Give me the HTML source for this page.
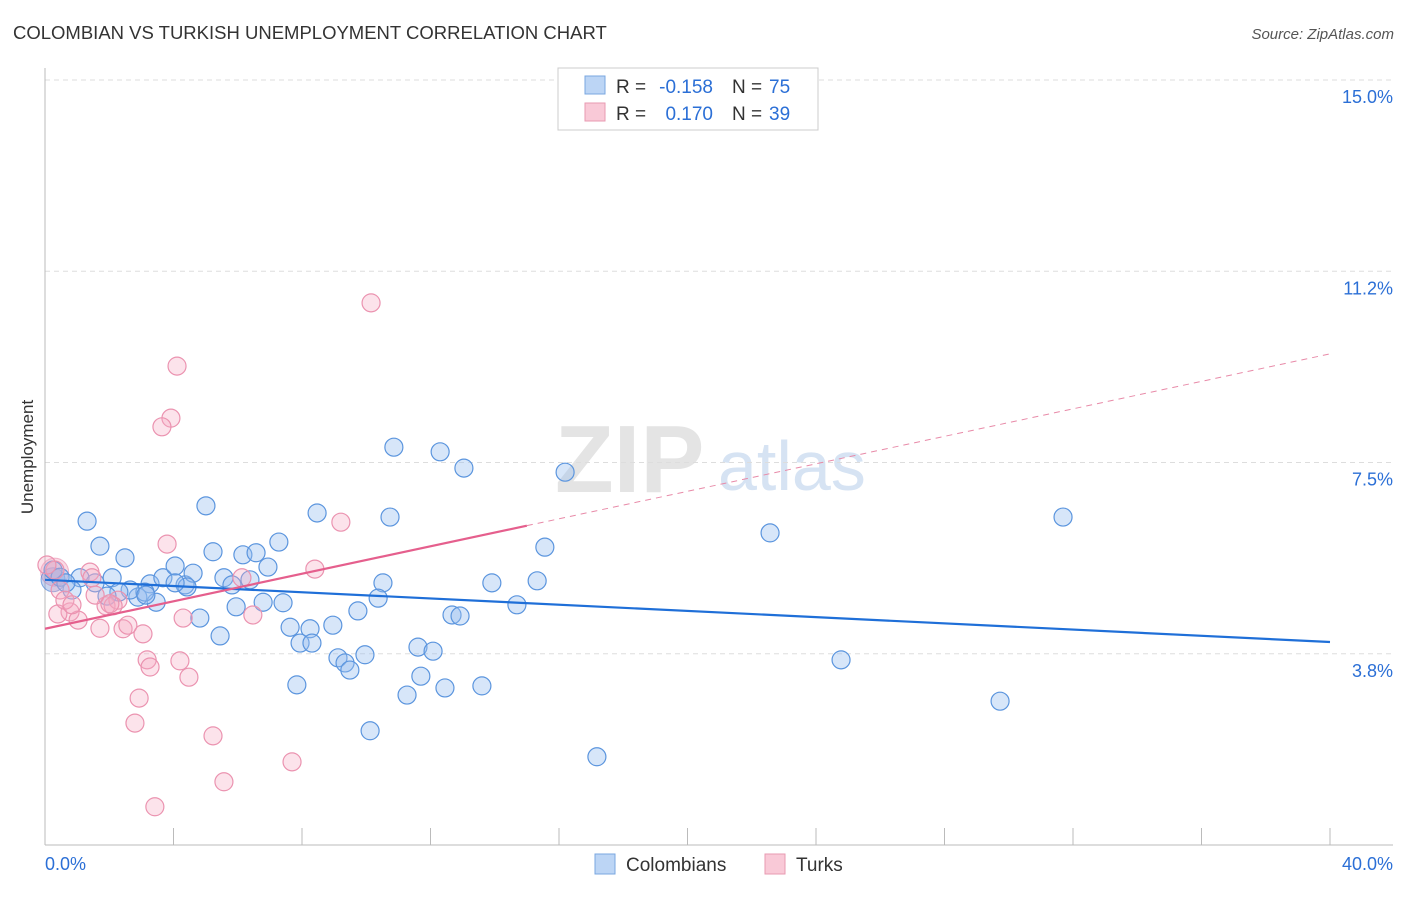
<!DOCTYPE html>
<html><head><meta charset="utf-8"><style>
body{margin:0;background:#fff;font-family:"Liberation Sans",sans-serif;}
svg text{font-family:"Liberation Sans",sans-serif;}
</style></head><body>
<svg id="chart" width="1406" height="892" viewBox="0 0 1406 892" xmlns="http://www.w3.org/2000/svg">
<text x="13" y="39" font-size="18.5" fill="#333">COLOMBIAN VS TURKISH UNEMPLOYMENT CORRELATION CHART</text>
<text x="1394" y="39" font-size="15" fill="#555" text-anchor="end" font-style="italic">Source: ZipAtlas.com</text>
<text x="555" y="492" font-size="96" fill="#e4e4e4" font-family="Liberation Serif" font-weight="bold">ZIP</text>
<text x="718" y="490" font-size="70" fill="#d6e3f3">atlas</text>
<text transform="translate(33,457) rotate(-90)" font-size="17" fill="#333" text-anchor="middle">Unemployment</text>
<g id="grid"></g><g id="axes"></g><g id="pts"></g><g id="lines"></g>
<g>
<rect x="558" y="68" width="260" height="62" fill="#fff" stroke="#ccc"/>
<rect x="585" y="76" width="20" height="18" fill="#bcd5f5" stroke="#7aa7e0"/>
<rect x="585" y="103" width="20" height="18" fill="#f9c9d7" stroke="#e89ab2"/>
<text x="616" y="93" font-size="19" fill="#333">R =</text>
<text x="713" y="93" font-size="19" fill="#2b6fd6" text-anchor="end">-0.158</text>
<text x="732" y="93" font-size="19" fill="#333">N =</text>
<text x="769" y="93" font-size="19" fill="#2b6fd6">75</text>
<text x="616" y="120" font-size="19" fill="#333">R =</text>
<text x="713" y="120" font-size="19" fill="#2b6fd6" text-anchor="end">0.170</text>
<text x="732" y="120" font-size="19" fill="#333">N =</text>
<text x="769" y="120" font-size="19" fill="#2b6fd6">39</text>
</g>
<g>
<rect x="595" y="854" width="20" height="20" fill="#bcd5f5" stroke="#7aa7e0"/>
<text x="626" y="871" font-size="19" fill="#333">Colombians</text>
<rect x="765" y="854" width="20" height="20" fill="#f9c9d7" stroke="#e89ab2"/>
<text x="796" y="871" font-size="19" fill="#333">Turks</text>
</g>
</svg>
<script>
const blueX=[1.31,1.71,2.49,0.25,0.47,1.09,2.09,3.27,3.67,4.05,4.36,4.61,5.23,5.57,6.16,6.57,6.38,6.94,7.28,5.01,8.47,10.74,10.86,12.30,13.04,16.19,15.56,13.91,15.32,14.69,10.52,10.37,9.74,8.96,8.25,7.63,7.94,8.31,7.41,6.79,5.95,5.45,4.82,3.46,2.89,3.11,2.65,2.30,1.93,0.84,0.65,1.56,9.12,9.34,9.49,9.96,7.84,10.12,11.27,11.70,11.61,12.08,12.45,13.60,12.67,12.92,17.18,22.57,24.78,29.73,31.69,5.82,4.42,4.05,3.14];
const blueY=[6.35,5.86,5.63,5.39,5.25,5.24,5.24,5.12,5.24,5.47,5.10,5.33,5.75,5.24,5.69,5.73,5.20,5.45,5.94,6.65,6.51,6.43,7.80,7.71,7.39,7.31,5.84,5.14,5.18,4.71,5.14,4.84,4.59,4.31,4.24,4.27,3.96,3.96,4.75,4.76,4.67,4.10,4.45,4.76,4.86,4.96,5.00,4.96,4.88,5.00,5.14,5.14,3.67,3.57,3.43,3.73,3.14,2.24,2.94,3.31,3.88,3.80,3.08,3.12,4.51,4.49,1.73,6.12,3.63,2.82,6.43,5.10,5.06,5.14,4.90];
const pinkX=[10.15,4.11,3.92,3.64,3.80,9.21,8.40,6.13,6.47,4.30,1.40,1.46,0.31,0.06,0.47,0.78,0.40,1.03,1.71,1.90,2.27,2.12,1.56,2.43,2.58,3.05,3.18,3.27,4.20,4.48,2.93,2.80,5.23,5.57,7.69,3.42,0.62,0.84,2.02];
const pinkY=[10.63,9.39,8.37,8.20,5.90,6.33,5.41,5.24,4.51,4.45,5.35,5.24,5.39,5.49,5.00,4.57,4.53,4.41,4.25,4.69,4.80,4.69,4.90,4.24,4.31,4.14,3.63,3.49,3.61,3.29,2.88,2.39,2.14,1.24,1.63,0.75,4.80,4.71,4.73];
const yTicks=[15,11.25,7.5,3.75];
const yTickLabels=["15.0%","11.2%","7.5%","3.8%"];
const blueTrend=[5.2,3.98];
const pinkTrend=[4.24,9.63];
const pinkSolidEnd=15;
const NS="http://www.w3.org/2000/svg";
const X=v=>45+v*32.125, Y=v=>845-v*51;
function mk(tag,attrs,parent){const e=document.createElementNS(NS,tag);for(const k in attrs)e.setAttribute(k,attrs[k]);document.getElementById(parent).appendChild(e);return e;}
yTicks.forEach((t,i)=>{
 const g=mk('line',{x1:45,x2:1393,y1:Y(t),y2:Y(t),stroke:'#ddd','stroke-dasharray':'5,4'},'grid');
 
 
 const l=mk('text',{x:1393,y:Y(t)+23,'font-size':18,fill:'#2b6fd6','text-anchor':'end'},'grid');
 l.textContent=yTickLabels[i];
 
 
});
const ax=mk('line',{x1:45,x2:45,y1:68,y2:845,stroke:'#bbb'},'axes');


const bx=mk('line',{x1:45,x2:1393,y1:845,y2:845,stroke:'#bbb'},'axes');


for(let t=4;t<=40;t+=4){
 const tk=mk('line',{x1:X(t),x2:X(t),y1:828,y2:845,stroke:'#bbb'},'axes');
 
 
}
const x0=mk('text',{x:45,y:870,'font-size':18,fill:'#2b6fd6'},'axes');x0.textContent='0.0%';


const x1=mk('text',{x:1393,y:870,'font-size':18,fill:'#2b6fd6','text-anchor':'end'},'axes');x1.textContent='40.0%';


mk('circle',{cx:X(0.3),cy:Y(5.35),r:14,fill:'rgba(240,150,180,0.35)',stroke:'rgba(230,120,160,0.5)'},'pts');
mk('circle',{cx:X(0.25),cy:Y(5.2),r:12,fill:'rgba(120,150,220,0.4)',stroke:'rgba(60,120,210,0.6)'},'pts');
blueX.forEach((v,i)=>{
 const c=mk('circle',{cx:X(v),cy:Y(blueY[i]),r:9,fill:'rgba(150,190,240,0.38)',stroke:'#5b95de','stroke-width':1.2},'pts');
 
 
});
pinkX.forEach((v,i)=>{
 const c=mk('circle',{cx:X(v),cy:Y(pinkY[i]),r:9,fill:'rgba(245,170,195,0.33)',stroke:'#eb93b0','stroke-width':1.2},'pts');
 
 
});
const bl=mk('line',{x1:X(0),y1:Y(blueTrend[0]),x2:X(40),y2:Y(blueTrend[1]),stroke:'#1f6fd8','stroke-width':2.2},'lines');


const pAt=x=>pinkTrend[0]+(pinkTrend[1]-pinkTrend[0])*x/40;
const ps=mk('line',{x1:X(0),y1:Y(pAt(0)),x2:X(pinkSolidEnd),y2:Y(pAt(pinkSolidEnd)),stroke:'#e55f8d','stroke-width':2.2},'lines');


const pd=mk('line',{x1:X(pinkSolidEnd),y1:Y(pAt(pinkSolidEnd)),x2:X(40),y2:Y(pAt(40)),stroke:'#e88aa8','stroke-width':1,'stroke-dasharray':'6,5'},'lines');


</script>
</body></html>
